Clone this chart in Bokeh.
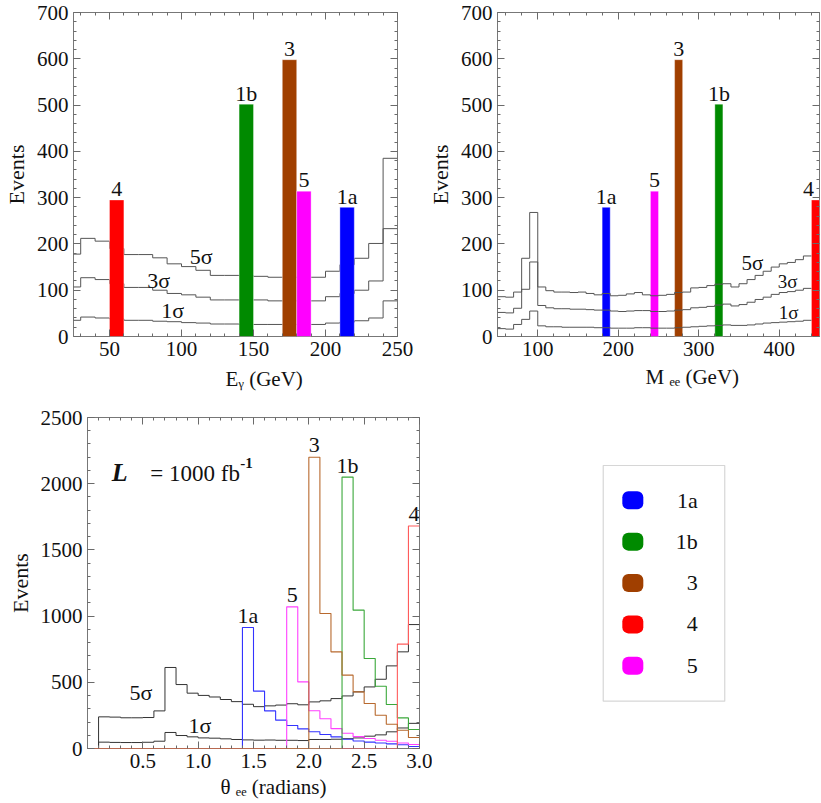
from bokeh.plotting import figure
from bokeh.models import (Range1d, FactorRange, LinearAxis, SingleIntervalTicker,
                          FixedTicker, Label, Title, BoxAnnotation, PrintfTickFormatter)
from bokeh.layouts import row, column
from bokeh.embed import file_html
from bokeh.resources import INLINE
from bokeh.core.properties import value

FONT = "Liberation Serif"

# ---------------- data ----------------
scenarios = ["1a", "1b", "3", "4", "5"]
bar_colors = ["#0000ff", "#008a00", "#a03f00", "#ff0000", "#ff00ff"]
theta_colors = ["#3434ff", "#3aa83a", "#b8692e", "#ff5c5c", "#ff40ff"]
signal_events = [279, 502, 598, 295, 314]

# Panel 1: photon energy E_gamma (GeV), 10 GeV bins
egamma_bin_width = 10
egamma_signal_bin = [210, 140, 170, 50, 180]
egamma_bins = [20, 30, 40, 50, 60, 70, 80, 90, 100, 110, 120, 130, 140, 150,
               160, 170, 180, 190, 200, 210, 220, 230, 240]
egamma_5sigma = [178, 212, 206, 190, 177, 177, 170, 157, 151, 143, 132, 132,
                 131, 130, 128, 128, 128, 128, 141, 155, 169, 201, 385]
egamma_3sigma = [107, 127, 123, 114, 106, 106, 100, 93, 90, 85, 79, 79,
                 79, 79, 77, 77, 77, 77, 86, 93, 100, 120, 233]
egamma_1sigma = [35, 42, 40, 38, 35, 35, 33, 32, 30, 29, 27, 27,
                 26, 26, 26, 26, 26, 26, 29, 31, 34, 40, 77]

# Panel 2: invariant mass M_ee (GeV), 10 GeV bins
mee_bin_width = 10
mee_signal_bin = [180, 320, 270, 440, 240]
mee_bins = [50, 60, 70, 80, 90, 100, 110, 120, 130, 140, 150, 160, 170, 180,
            190, 200, 210, 220, 230, 240, 250, 260, 270, 280, 290, 300, 310,
            320, 330, 340, 350, 360, 370, 380, 390, 400, 410, 420, 430]
mee_5sigma = [86, 85, 96, 169, 268, 107, 99, 96, 96, 95, 96, 93, 90, 93,
              88, 89, 92, 95, 90, 88, 89, 91, 95, 96, 105, 106, 110,
              113, 114, 107, 114, 123, 132, 141, 150, 157, 160, 166, 174]
mee_3sigma = [52, 51, 61, 102, 161, 67, 62, 60, 60, 59, 59, 58, 57, 57,
              55, 54, 55, 56, 56, 54, 54, 55, 57, 58, 62, 63, 65,
              68, 70, 66, 69, 74, 80, 85, 91, 95, 97, 100, 104]
mee_1sigma = [17, 16, 26, 37, 55, 23, 21, 21, 20, 20, 20, 20, 19, 19,
              18, 18, 18, 19, 19, 18, 18, 18, 19, 20, 21, 22, 23,
              24, 25, 24, 24, 25, 27, 29, 30, 31, 32, 33, 35]

# Panel 3: opening angle theta_ee (radians), 0.1 rad bins
theta_bin_width = 0.1
theta_bins = [0.0, 0.1, 0.2, 0.3, 0.4, 0.5, 0.6, 0.7, 0.8, 0.9, 1.0, 1.1, 1.2,
              1.3, 1.4, 1.5, 1.6, 1.7, 1.8, 1.9, 2.0, 2.1, 2.2, 2.3, 2.4, 2.5,
              2.6, 2.7, 2.8, 2.9]
theta_5sigma = [0, 239, 237, 232, 232, 234, 284, 612, 483, 418, 401, 389, 370,
                354, 334, 316, 322, 328, 338, 330, 352, 360, 377, 397, 428, 465,
                523, 624, 730, 936]
theta_1sigma = [0, 48, 46, 45, 45, 47, 55, 121, 98, 88, 80, 78, 73,
                68, 65, 63, 64, 62, 62, 60, 68, 68, 70, 74, 80, 93,
                103, 126, 155, 190]
theta_1a = [0, 0, 0, 0, 0, 0, 0, 0, 0, 0, 0, 0, 0,
            0, 914, 433, 284, 214, 174, 148, 126, 106, 88, 70, 57, 48,
            42, 35, 28, 15]
theta_1b = [0, 0, 0, 0, 0, 0, 0, 0, 0, 0, 0, 0, 0,
            0, 0, 0, 0, 0, 0, 0, 0, 0, 0, 2050, 1045, 680,
            470, 332, 231, 143]
theta_3 = [0, 0, 0, 0, 0, 0, 0, 0, 0, 0, 0, 0, 0,
           0, 0, 0, 0, 0, 0, 0, 2200, 1020, 730, 554, 428, 340,
           251, 183, 138, 83]
theta_4 = [0, 0, 0, 0, 0, 0, 0, 0, 0, 0, 0, 0, 0,
           0, 0, 0, 0, 0, 0, 0, 0, 0, 0, 0, 0, 0,
           0, 0, 788, 1680]
theta_5 = [0, 0, 0, 0, 0, 0, 0, 0, 0, 0, 0, 0, 0,
           0, 0, 0, 0, 0, 1070, 503, 285, 225, 150, 115, 90, 75,
           62, 55, 42, 30]
theta_signals = [theta_1a, theta_1b, theta_3, theta_4, theta_5]

TICK_COLOR = "#6a6a6a"
LINE_COLOR = "#555555"
TEXT_COLOR = "#111111"


def step_xy(lo, vals, width):
    xs = list(lo) + [round(lo[-1] + width, 6)]
    ys = list(vals) + [vals[-1]]
    return xs, ys


def style_axis(ax, show_labels=True):
    ax.major_tick_in = 7
    ax.major_tick_out = 0
    ax.minor_tick_in = 3
    ax.minor_tick_out = 0
    ax.major_tick_line_color = TICK_COLOR
    ax.minor_tick_line_color = TICK_COLOR
    ax.axis_line_color = None
    ax.major_label_text_font = FONT
    ax.major_label_text_font_size = "21px"
    if show_labels:
        ax.major_label_text_color = TEXT_COLOR
        ax.major_label_standoff = 5
    else:
        ax.major_label_text_color = None
        ax.major_label_standoff = 0


def make_panel(width, height, xr, yr, borders, xticks, yticks, xfmt=None):
    l, r, t, b = borders
    p = figure(width=width, height=height, x_range=Range1d(*xr), y_range=Range1d(*yr),
               output_backend="svg", toolbar_location=None,
               x_axis_type=None, y_axis_type=None,
               min_border_left=l, min_border_right=r, min_border_top=t, min_border_bottom=b)
    p.outline_line_color = "#777777"
    p.outline_line_width = 1
    for side, tk, show in (("below", xticks(), True), ("above", xticks(), False),
                           ("left", yticks(), True), ("right", yticks(), False)):
        ax = LinearAxis(ticker=tk)
        style_axis(ax, show)
        if xfmt is not None and side in ("below", "above"):
            ax.formatter = xfmt()
        if side == "left":
            ax.axis_label = "Events"
            ax.axis_label_text_font = FONT
            ax.axis_label_text_font_size = "22px"
            ax.axis_label_text_font_style = "normal"
            ax.axis_label_text_color = TEXT_COLOR
            ax.axis_label_standoff = 5
        p.add_layout(ax, side)
    return p


def add_text(p, text, x, y, size, style="normal"):
    # y is the vertical centre of the text
    p.add_layout(Label(x=x, y=y, text=text, text_font=FONT, text_font_size=size,
                       text_font_style=style, text_color=TEXT_COLOR,
                       text_align="left", text_baseline="middle"))


def add_xtitle(p, text, offset, standoff):
    p.add_layout(Title(text=text, align="left", offset=offset, standoff=standoff,
                       text_font=FONT, text_font_size="21px", text_font_style="normal",
                       text_color=TEXT_COLOR), "below")


# ---------------- panel 1: E_gamma ----------------
p1 = make_panel(424, 402, (25, 250), (0, 700), (67, 27, 12, 66),
                lambda: SingleIntervalTicker(interval=50, num_minor_ticks=5),
                lambda: SingleIntervalTicker(interval=100, num_minor_ticks=5))
for vals in (egamma_5sigma, egamma_3sigma, egamma_1sigma):
    xs, ys = step_xy(egamma_bins, vals, egamma_bin_width)
    p1.step(xs, ys, mode="after", line_color=LINE_COLOR, line_width=1)
p1.quad(left=egamma_signal_bin,
        right=[b + egamma_bin_width for b in egamma_signal_bin],
        bottom=0, top=signal_events, fill_color=bar_colors,
        line_color="white", line_alpha=0.6, line_width=0.6)
p1.text(x=[b + egamma_bin_width / 2 for b in egamma_signal_bin], y=signal_events,
        text=scenarios, text_align="center", text_baseline="middle", y_offset=-11,
        text_font=value(FONT), text_font_size=value("22px"), text_color=TEXT_COLOR)
add_text(p1, "5σ", 105.8, 173, "22px")
add_text(p1, "3σ", 76.2, 122, "22px")
add_text(p1, "1σ", 86, 56, "22px")
add_xtitle(p1, "Eᵧ (GeV)", 152, 12)

# ---------------- panel 2: M_ee ----------------
p2 = make_panel(396, 402, (50, 450), (0, 700), (68, 1, 12, 66),
                lambda: SingleIntervalTicker(interval=100, num_minor_ticks=5),
                lambda: SingleIntervalTicker(interval=100, num_minor_ticks=5))
p2.quad(left=mee_signal_bin,
        right=[b + mee_bin_width for b in mee_signal_bin],
        bottom=0, top=signal_events, fill_color=bar_colors,
        line_color="white", line_alpha=0.6, line_width=0.6)
for vals in (mee_5sigma, mee_3sigma, mee_1sigma):
    xs, ys = step_xy(mee_bins, vals, mee_bin_width)
    p2.step(xs, ys, mode="after", line_color=LINE_COLOR, line_width=1)
x_end = 450
inner = [i for i, b in enumerate(mee_signal_bin) if b + mee_bin_width < x_end]
edge = [i for i, b in enumerate(mee_signal_bin) if b + mee_bin_width >= x_end]
p2.text(x=[mee_signal_bin[i] + mee_bin_width / 2 for i in inner],
        y=[signal_events[i] for i in inner], text=[scenarios[i] for i in inner],
        text_align="center", text_baseline="middle", y_offset=-11,
        text_font=value(FONT), text_font_size=value("22px"), text_color=TEXT_COLOR)
p2.text(x=[mee_signal_bin[i] + mee_bin_width / 2 for i in edge],
        y=[signal_events[i] for i in edge], text=[scenarios[i] for i in edge],
        text_align="center", text_baseline="middle", y_offset=-11, x_offset=-7,
        text_font=value(FONT), text_font_size=value("22px"), text_color=TEXT_COLOR)
add_text(p2, "5σ", 353, 159, "21px")
add_text(p2, "3σ", 398, 118, "19px")
add_text(p2, "1σ", 399.5, 51, "19px")
add_xtitle(p2, "M ₑₑ (GeV)", 148, 9)

# ---------------- panel 3: theta_ee ----------------
p3 = make_panel(432, 399, (0, 3.0), (0, 2500), (87, 13, 15, 53),
                lambda: FixedTicker(ticks=[0.5, 1.0, 1.5, 2.0, 2.5, 3.0],
                                    minor_ticks=[0.1, 0.2, 0.3, 0.4, 0.6, 0.7, 0.8, 0.9,
                                                 1.1, 1.2, 1.3, 1.4, 1.6, 1.7, 1.8, 1.9,
                                                 2.1, 2.2, 2.3, 2.4, 2.6, 2.7, 2.8, 2.9]),
                lambda: SingleIntervalTicker(interval=500, num_minor_ticks=5),
                xfmt=lambda: PrintfTickFormatter(format="%.1f"))
for vals in (theta_5sigma, theta_1sigma):
    xs, ys = step_xy(theta_bins, vals, theta_bin_width)
    p3.step(xs, ys, mode="after", line_color="#333333", line_width=1)
for idx in (0, 4, 1, 3, 2):
    xs, ys = step_xy(theta_bins, theta_signals[idx], theta_bin_width)
    p3.step(xs, ys, mode="after", line_color=theta_colors[idx], line_width=1.1)
peak_x, peak_y = [], []
for vals in theta_signals:
    k = max(range(len(vals)), key=lambda j: vals[j])
    peak_x.append(theta_bins[k] + theta_bin_width / 2)
    peak_y.append(vals[k])
p3.text(x=peak_x, y=peak_y, text=scenarios, text_align="center",
        text_baseline="middle", y_offset=-12,
        text_font=value(FONT), text_font_size=value("22px"), text_color=TEXT_COLOR)
add_text(p3, "5σ", 0.38, 422, "22px")
add_text(p3, "1σ", 0.913, 170, "22px")
add_text(p3, "L", 0.22, 2082, "26px", style="bold italic")
add_text(p3, "= 1000 fb", 0.567, 2074, "23px")
add_text(p3, "-1", 1.38, 2159, "15px", style="bold")
add_xtitle(p3, "θ ₑₑ (radians)", 133, 5)

# ---------------- legend panel ----------------
p4 = figure(width=388, height=399, x_range=Range1d(0, 1),
            y_range=FactorRange(factors=list(reversed(scenarios)), range_padding=1.5,
                                range_padding_units="absolute"),
            output_backend="svg", toolbar_location=None,
            x_axis_type=None, y_axis_type=None,
            min_border_left=161, min_border_right=90, min_border_top=15, min_border_bottom=53)
p4.outline_line_color = None
p4.add_layout(BoxAnnotation(left=0.071, right=0.958, bottom=-0.357, top=5.34,
                            fill_color=None, line_color="#777777", line_width=1.2))
p4.rect(x=0.287, y=scenarios, width=21, height=18, width_units="screen",
        height_units="screen", fill_color=bar_colors, line_color=None, border_radius=6)
p4.text(x=0.761, y=scenarios, text=scenarios, text_align="right", text_baseline="middle",
        text_font=value(FONT), text_font_size=value("22px"), text_color=TEXT_COLOR)

layout = column(row(p1, p2), row(p3, p4))
open("out.html", "w").write(file_html(layout, INLINE))
